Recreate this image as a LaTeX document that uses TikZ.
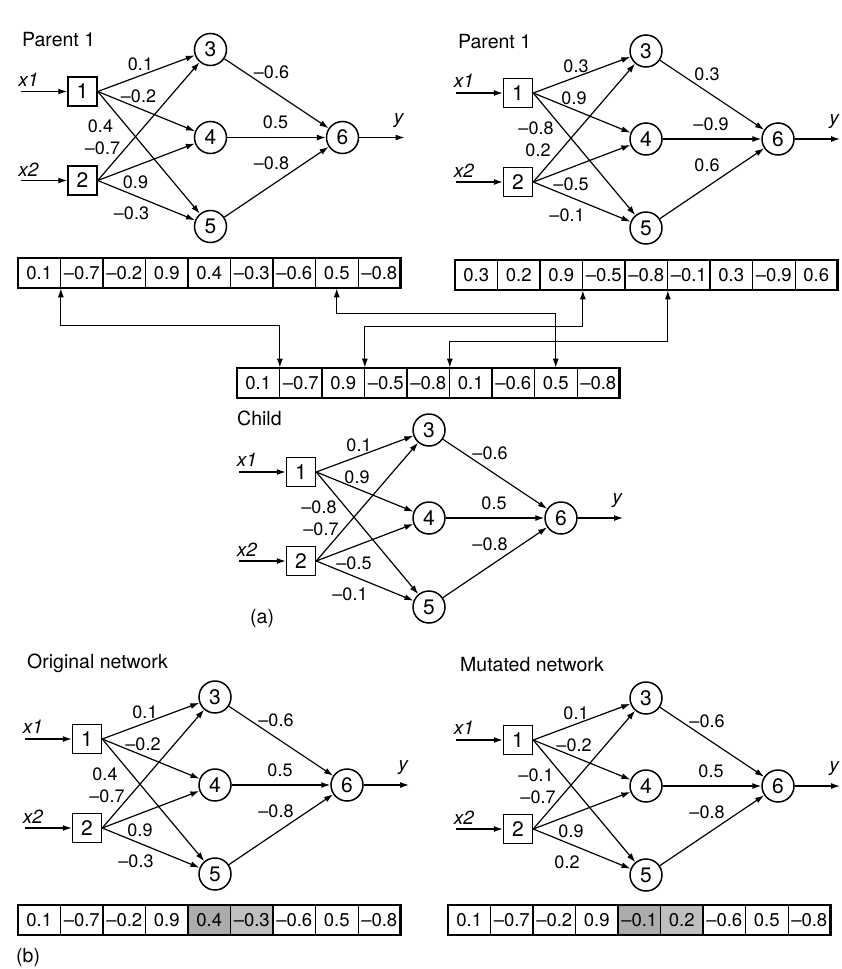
\documentclass[tikz,border=0pt]{standalone}
\usepackage{fontspec}
\setmainfont{TeX Gyre Heros}
\usetikzlibrary{arrows.meta,calc}

\tikzset{
  neuron/.style={circle,draw,line width=1.5pt,minimum size=32pt,inner sep=0pt,font=\fontsize{21}{21}\selectfont},
  inbox/.style={rectangle,draw,line width=1.5pt,minimum size=29pt,inner sep=0pt,font=\fontsize{21}{21}\selectfont},
  wire/.style={line width=1.2pt,-{Latex[length=9pt,width=6pt]}},
  wlabel/.style={font=\fontsize{18}{18}\selectfont,inner sep=1pt},
  iolabel/.style={font=\fontsize{19}{19}\selectfont\itshape,inner sep=1pt},
  titlelab/.style={font=\fontsize{19.5}{19.5}\selectfont,anchor=west,inner sep=0pt},
  gene/.style={rectangle,draw,line width=0.7pt,minimum width=42.5pt,minimum height=30pt,inner sep=0pt,font=\fontsize{18.5}{18.5}\selectfont},
  link/.style={line width=1.2pt,{Latex[length=9pt,width=6pt]}-{Latex[length=9pt,width=6pt]}},
  chromframe/.style={line width=2.4pt},
  chromsep/.style={line width=2pt}
}

% network: #1 prefix, #2 origin of box 1, #3..#8 weights w13 w23 w14 w24 w15 w25
\newcommand\drawnet[8]{%
  \begin{scope}[shift={(#2)}]
    \node[inbox] (#1b1) at (0,0) {1};
    \node[inbox] (#1b2) at (0,89) {2};
    \node[neuron] (#1n3) at (128,-42) {3};
    \node[neuron] (#1n4) at (128,46) {4};
    \node[neuron] (#1n5) at (128,135) {5};
    \node[neuron] (#1n6) at (260,46) {6};
    \coordinate (#1i1) at (-62,0);
    \coordinate (#1i2) at (-62,89);
    \coordinate (#1o) at (322,46);
    \node[iolabel] (#1x1) at (-54,-12) {x1};
    \node[iolabel] (#1x2) at (-54,78) {x2};
    \node[iolabel] (#1y) at (316,29) {y};
    \draw[wire] (#1i1) -- (#1b1);
    \draw[wire] (#1i2) -- (#1b2);
    \draw[wire] (#1n6) -- (#1o);
    \draw[wire] (#1b1.east) -- (#1n3);
    \draw[wire] (#1b1.east) -- (#1n4);
    \draw[wire] (#1b1.east) -- (#1n5);
    \draw[wire] (#1b2.east) -- (#1n3);
    \draw[wire] (#1b2.east) -- (#1n4);
    \draw[wire] (#1b2.east) -- (#1n5);
    \node[wlabel] (#1w13) at (58,-27) {#3};
    \node[wlabel] (#1w23) at (20,57) {#4};
    \node[wlabel] (#1w14) at (56,5) {#5};
    \node[wlabel] (#1w24) at (53,91) {#6};
    \node[wlabel] (#1w15) at (18,35) {#7};
    \node[wlabel] (#1w25) at (49,122) {#8};
  \end{scope}}

% output layer: #1 prefix, #2 origin, #3..#5 weights w36 w46 w56
\newcommand\drawout[5]{%
  \begin{scope}[shift={(#2)}]
    \draw[wire] (#1n3) -- (#1n6);
    \draw[wire] (#1n4) -- (#1n6);
    \draw[wire] (#1n5) -- (#1n6);
    \node[wlabel] (#1w36) at (189,-19) {#3};
    \node[wlabel] (#1w46) at (193,31) {#4};
    \node[wlabel] (#1w56) at (189,72) {#5};
  \end{scope}}

% chromosome: #1 prefix, #2 left x, #3 top y, #4 values, #5 fill of cell 5, #6 fill of cell 6
\newcommand\drawchrom[6]{%
  \fill[#5] ({#2+4*42.5},#3) rectangle ++(42.5,30);
  \fill[#6] ({#2+5*42.5},#3) rectangle ++(42.5,30);
  \foreach \v [count=\i] in {#4} {
    \node[gene] (#1c\i) at ({#2+(\i-0.5)*42.5},{#3+15}) {\v};
  }
  \draw[chromframe] (#2,#3) rectangle ++(382.5,30);
  \draw[chromsep] ({#2+2*42.5},#3) -- ++(0,30);
  \draw[chromsep] ({#2+4*42.5},#3) -- ++(0,30);
  \draw[chromsep] ({#2+6*42.5},#3) -- ++(0,30);
}

\begin{document}
\begin{tikzpicture}[x=1pt,y=-1pt]
\useasboundingbox (0,0) rectangle (842,969);

% titles
\node[titlelab] (tA) at (22,40) {Parent 1};
\node[titlelab] (tB) at (458,42) {Parent 1};
\node[titlelab] (tC) at (237,418) {Child};
\node[titlelab] (tD) at (27,663) {Original network};
\node[titlelab] (tE) at (460,665) {Mutated network};
\node[titlelab] (la) at (250,618) {(a)};
\node[titlelab] (lb) at (16,957) {(b)};

% networks
\drawnet{A}{82.5,91.5}{0.1}{–0.7}{–0.2}{0.9}{0.4}{–0.3}
\drawout{A}{82.5,91.5}{–0.6}{0.5}{–0.8}
\drawnet{B}{518,93}{0.3}{0.2}{0.9}{–0.5}{–0.8}{–0.1}
\drawout{B}{518,93}{0.3}{–0.9}{0.6}
\drawnet{C}{301,472}{0.1}{–0.7}{0.9}{–0.5}{–0.8}{–0.1}
\drawout{C}{301,472}{–0.6}{0.5}{–0.8}
\drawnet{D}{87,739}{0.1}{–0.7}{–0.2}{0.9}{0.4}{–0.3}
\drawout{D}{87,739}{–0.6}{0.5}{–0.8}
\drawnet{E}{518,740}{0.1}{–0.7}{–0.2}{0.9}{–0.1}{0.2}
\drawout{E}{518,740}{–0.6}{0.5}{–0.8}

% chromosomes
\drawchrom{cA}{18}{258}{0.1,–0.7,–0.2,0.9,0.4,–0.3,–0.6,0.5,–0.8}{white}{white}
\drawchrom{cB}{455}{260}{0.3,0.2,0.9,–0.5,–0.8,–0.1,0.3,–0.9,0.6}{white}{white}
\drawchrom{cC}{237}{368}{0.1,–0.7,0.9,–0.5,–0.8,0.1,–0.6,0.5,–0.8}{white}{white}
\drawchrom{cD}{18}{905}{0.1,–0.7,–0.2,0.9,0.4,–0.3,–0.6,0.5,–0.8}{gray!65}{gray!50}
\drawchrom{cE}{448}{905}{0.1,–0.7,–0.2,0.9,–0.1,0.2,–0.6,0.5,–0.8}{gray!65}{gray!50}

% crossover links
\draw[link] (cAc1.south east) -- ++(0,37) -| (cCc1.north east);
\draw[link] (cAc8.south) -- ++(0,25) -| (cCc8.north);
\draw[link] (cBc3.south east) -- ++(0,36) -| (cCc3.north east);
\draw[link] (cBc5.south east) -- ++(0,51) -| (cCc5.north east);
\end{tikzpicture}
\end{document}
